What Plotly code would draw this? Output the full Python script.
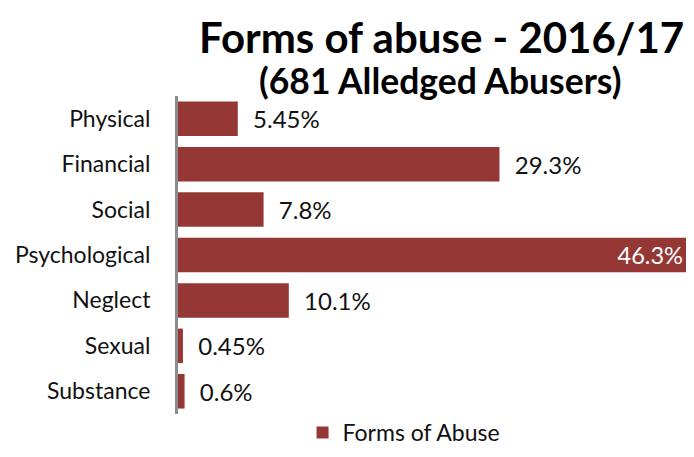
import plotly.graph_objects as go

categories = ["Physical", "Financial", "Social", "Psychological", "Neglect", "Sexual", "Substance"]
values = [5.45, 29.3, 7.8, 46.3, 10.1, 0.45, 0.6]
labels = ["5.45%", "29.3%", "7.8%", "46.3%", "10.1%", "0.45%", "0.6%"]
series_name = "Forms of Abuse"
title_text = "Forms of abuse - 2016/17"
subtitle_text = "(681 Alledged Abusers)"

FONT = "Lato, 'Liberation Sans', sans-serif"
BAR = "#953735"

positions = ["inside" if v == max(values) else "outside" for v in values]
texts = [("  " + t) if p == "outside" else t for t, p in zip(labels, positions)]

fig = go.Figure()
fig.add_trace(go.Bar(
    y=categories, x=values, orientation="h", name=series_name,
    marker=dict(color=BAR, line=dict(width=0)),
    text=texts, textposition=positions, insidetextanchor="end",
    insidetextfont=dict(color="white", size=24, family=FONT),
    outsidetextfont=dict(color="#111", size=24, family=FONT),
    cliponaxis=False, showlegend=True,
))

fig.update_layout(
    width=678, height=441,
    margin=dict(l=170, r=0, t=88, b=35, autoexpand=False),
    paper_bgcolor="white", plot_bgcolor="white",
    bargap=0.24,
    font=dict(family=FONT, color="#111", size=23),
    showlegend=True,
    legend=dict(orientation="h", x=0.445, xanchor="center", y=-0.058, yanchor="middle",
                font=dict(size=23, family=FONT)),
    annotations=[
        dict(text="<b>" + title_text + "</b>", xref="paper", yref="paper",
             x=0.518, y=1.185, yanchor="middle", xanchor="center", showarrow=False,
             font=dict(size=42, family=FONT, color="#000")),
        dict(text="<b>" + subtitle_text + "</b>", xref="paper", yref="paper",
             x=0.516, y=1.05, yanchor="middle", xanchor="center", showarrow=False,
             font=dict(size=35.5, family=FONT, color="#000")),
    ],
)
fig.update_xaxes(range=[0, 46.3], visible=False, showgrid=False, zeroline=False)
fig.update_yaxes(autorange="reversed", showline=True, linecolor="#8c8c8c", linewidth=3,
                 ticks="", showgrid=False, ticklabelstandoff=20, automargin=False,
                 tickfont=dict(size=23, family=FONT, color="#111"))

fig.write_html("out.html")
